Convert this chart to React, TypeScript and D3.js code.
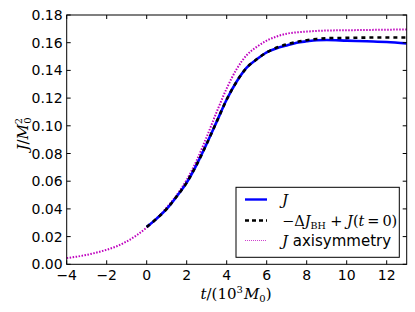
import React from "react";
import * as d3 from "d3";

// J (blue, solid)
const tJ = [0, 0.5, 1, 1.5, 2, 2.5, 3, 3.5, 4, 4.5, 5, 5.5, 6, 6.5, 7, 7.5, 8, 8.5, 9, 10, 11, 12, 13];
const vJ = [0.027, 0.033, 0.04, 0.049, 0.059, 0.072, 0.087, 0.103, 0.119, 0.132, 0.142, 0.148, 0.153, 0.156, 0.158, 0.16, 0.161, 0.1618, 0.162, 0.1615, 0.161, 0.1605, 0.1595];

// -dJ_BH + J(t=0) (black, dashed)
const tBH = [0, 0.5, 1, 1.5, 2, 2.5, 3, 3.5, 4, 4.5, 5, 5.5, 6, 6.5, 7, 7.5, 8, 8.5, 9, 10, 11, 12, 13];
const vBH = [0.027, 0.033, 0.04, 0.049, 0.059, 0.072, 0.087, 0.103, 0.119, 0.132, 0.142, 0.148, 0.153, 0.1565, 0.1588, 0.1605, 0.1618, 0.1627, 0.1632, 0.1635, 0.1637, 0.1638, 0.1638];

// J axisymmetry (magenta, dotted)
const tAx = [-4, -3.5, -3, -2.5, -2, -1.5, -1, -0.5, 0, 0.5, 1, 1.5, 2, 2.5, 3, 3.5, 4, 4.5, 5, 5.5, 6, 6.5, 7, 8, 9, 10, 11, 12, 13];
const vAx = [0.0045, 0.0055, 0.0068, 0.0085, 0.0105, 0.013, 0.0165, 0.021, 0.0265, 0.033, 0.041, 0.05, 0.061, 0.075, 0.092, 0.11, 0.127, 0.141, 0.151, 0.157, 0.1615, 0.1645, 0.1665, 0.168, 0.1688, 0.169, 0.1692, 0.1694, 0.1695];

const xTicks = [-4, -2, 0, 2, 4, 6, 8, 10, 12];
const yTicks = [0, 0.02, 0.04, 0.06, 0.08, 0.1, 0.12, 0.14, 0.16, 0.18];

const W = 415;
const H = 312;
const margin = { top: 15, right: 8.3, bottom: 47.7, left: 66.7 };

const sans = "'DejaVu Sans', sans-serif";
const serif = "'DejaVu Serif', 'Liberation Serif', serif";

export default function App() {
  const x = d3.scaleLinear().domain([-4, 13]).range([margin.left, W - margin.right]);
  const y = d3.scaleLinear().domain([0, 0.18]).range([H - margin.bottom, margin.top]);

  const line = d3
    .line<[number, number]>()
    .x((d) => x(d[0]))
    .y((d) => y(d[1]))
    .curve(d3.curveMonotoneX);

  const zip = (ts: number[], vs: number[]) => ts.map((t, i) => [t, vs[i]] as [number, number]);

  const x0 = margin.left;
  const x1 = W - margin.right;
  const y0 = H - margin.bottom;
  const y1 = margin.top;

  const lg = { x: 236, y: 187.3, w: 163.3, h: 70 };
  const rows = [199.5, 220.5, 240.5];

  return (
    <svg width={W} height={H} style={{ position: "absolute", left: 0, top: 0, background: "#fff" }}>
      <defs>
        <clipPath id="plot">
          <rect x={x0} y={y1} width={x1 - x0} height={y0 - y1} />
        </clipPath>
      </defs>

      {/* curves */}
      <g clipPath="url(#plot)" fill="none">
        <path d={line(zip(tAx, vAx)) || ""} stroke="#bf00bf" strokeWidth={2} strokeDasharray="1.5 1.5" />
        <path d={line(zip(tJ, vJ)) || ""} stroke="#0000ff" strokeWidth={2.6} />
        <path d={line(zip(tBH, vBH)) || ""} stroke="#000" strokeWidth={2.6} strokeDasharray="4 4" />
      </g>

      {/* frame */}
      <rect x={x0} y={y1} width={x1 - x0} height={y0 - y1} fill="none" stroke="#000" strokeWidth={1} />

      {/* x ticks */}
      {xTicks.map((t) => (
        <g key={`x${t}`}>
          <line x1={x(t)} x2={x(t)} y1={y0} y2={y0 - 4} stroke="#000" />
          <line x1={x(t)} x2={x(t)} y1={y1} y2={y1 + 4} stroke="#000" />
          <text x={x(t)} y={y0 + 16} textAnchor="middle" fontFamily={sans} fontSize={14}>
            {t < 0 ? `\u2212${-t}` : t}
          </text>
        </g>
      ))}

      {/* y ticks */}
      {yTicks.map((v) => (
        <g key={`y${v}`}>
          <line x1={x0} x2={x0 + 4} y1={y(v)} y2={y(v)} stroke="#000" />
          <line x1={x1} x2={x1 - 4} y1={y(v)} y2={y(v)} stroke="#000" />
          <text x={x0 - 4} y={y(v)} dy="0.36em" textAnchor="end" fontFamily={sans} fontSize={14}>
            {v.toFixed(2)}
          </text>
        </g>
      ))}

      {/* axis labels */}
      <text x={236} y={299} textAnchor="middle" fontFamily={serif} fontSize={15}>
        <tspan fontStyle="italic">t</tspan>/(10
        <tspan dy={-6} fontSize={10}>3</tspan>
        <tspan dy={6} fontStyle="italic" dx={1}>M</tspan>
        <tspan dy={3} fontSize={10}>0</tspan>
        <tspan dy={-3}>)</tspan>
      </text>
      <text transform="translate(28,134) rotate(-90)" textAnchor="middle" fontFamily={serif} fontSize={15}>
        <tspan fontStyle="italic">J</tspan>/<tspan fontStyle="italic">M</tspan>
        <tspan dy={-6} fontSize={10}>2</tspan>
        <tspan dy={9} dx={-6} fontSize={10}>0</tspan>
      </text>

      {/* legend */}
      <rect x={lg.x} y={lg.y} width={lg.w} height={lg.h} fill="#fff" stroke="#000" strokeWidth={1} />
      <line x1={245} x2={267} y1={rows[0]} y2={rows[0]} stroke="#0000ff" strokeWidth={2.4} />
      <line x1={245} x2={267} y1={rows[1]} y2={rows[1]} stroke="#000" strokeWidth={2.4} strokeDasharray="4 3" />
      <line x1={245} x2={267} y1={rows[2]} y2={rows[2]} stroke="#d040d0" strokeWidth={1.2} strokeDasharray="1 1" />
      <text x={282} y={rows[0]} dy="0.35em" fontFamily={serif} fontSize={15} fontStyle="italic">
        J
      </text>
      <text x={282} y={rows[1]} dy="0.35em" fontFamily={serif} fontSize={14.5}>
        {"\u2212\u0394"}
        <tspan fontStyle="italic">J</tspan>
        <tspan dy={3} fontSize={9.5}>BH</tspan>
        <tspan dy={-3}> + </tspan>
        <tspan fontStyle="italic">J</tspan>(<tspan fontStyle="italic">t</tspan>{"\u2009=\u20090)"}
      </text>
      <text x={282} y={rows[2]} dy="0.35em" fontFamily={sans} fontSize={15}>
        <tspan fontFamily={serif} fontStyle="italic">J</tspan>
        <tspan> axisymmetry</tspan>
      </text>
    </svg>
  );
}
